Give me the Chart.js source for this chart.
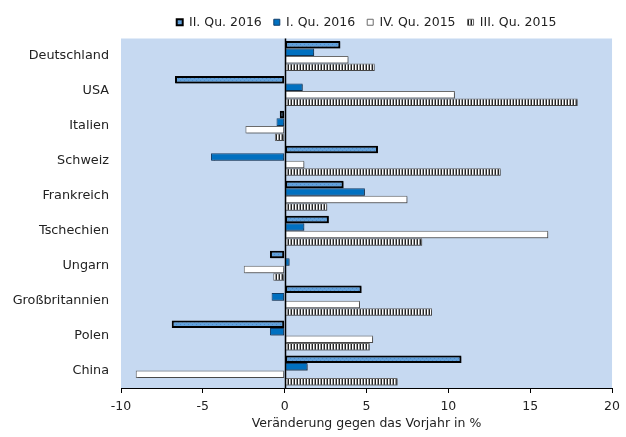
<!DOCTYPE html>
<html>
<head>
<meta charset="utf-8">
<script src="https://cdn.jsdelivr.net/npm/chart.js@4"></script>
<style>
  body { margin: 0; background: #fff; }
  #wrap { width: 626px; height: 437px; }
</style>
</head>
<body>
<div id="wrap"><canvas id="chart"></canvas></div>
<script>
const countries = ['Deutschland', 'USA', 'Italien', 'Schweiz', 'Frankreich', 'Tschechien', 'Ungarn', 'Großbritannien', 'Polen', 'China'];
const seriesNames = ['II. Qu. 2016', 'I. Qu. 2016', 'IV. Qu. 2015', 'III. Qu. 2015'];
const q2_2016 = [3.4, -6.7, -0.3, 5.7, 3.6, 2.7, -0.9, 4.7, -6.9, 10.8];
const q1_2016 = [1.8, 1.1, -0.5, -4.5, 4.9, 1.2, 0.3, -0.8, -0.9, 1.4];
const q4_2015 = [3.9, 10.4, -2.4, 1.2, 7.5, 16.1, -2.5, 4.6, 5.4, -9.1];
const q3_2015 = [5.5, 17.9, -0.6, 13.2, 2.6, 8.4, -0.7, 9.0, 5.2, 6.9];
const xTicks = [-10, -5, 0, 5, 10, 15, 20];

const FONT = '"DejaVu Sans", sans-serif';

// small canvas patterns for the bar fills
function makePattern(w, h, draw) {
    const c = document.createElement('canvas');
    c.width = w; c.height = h;
    draw(c.getContext('2d'));
    return c.getContext('2d').createPattern(c, 'repeat');
}
const ctx = document.getElementById('chart').getContext('2d');
const hatchBlue = makePattern(4, 4, g => {
    g.fillStyle = '#62a0da'; g.fillRect(0, 0, 4, 4);
    g.fillStyle = '#4a8bc9';
    g.fillRect(0, 0, 1, 1); g.fillRect(2, 2, 1, 1);
});
const stripes = makePattern(3, 3, g => {
    g.fillStyle = '#ffffff'; g.fillRect(0, 0, 3, 3);
    g.fillStyle = '#222222'; g.fillRect(0, 0, 1, 3);
    g.fillStyle = '#9a9a9a'; g.fillRect(2, 0, 1, 3);
});

const plotBg = {
    id: 'plotBg',
    beforeDraw(chart) {
        const a = chart.chartArea, c = chart.ctx;
        c.save();
        c.fillStyle = '#c6d9f1';
        c.fillRect(a.left, a.top, a.right - a.left, a.bottom - a.top);
        c.restore();
    },
    beforeDatasetsDraw(chart) {
        // soft drop shadow under the bars
        const c = chart.ctx;
        c.save();
        c.shadowColor = 'rgba(0, 0, 0, 0.35)';
        c.shadowOffsetX = 1;
        c.shadowOffsetY = 1;
        c.shadowBlur = 1;
    },
    afterDatasetsDraw(chart) {
        const a = chart.chartArea, c = chart.ctx;
        c.restore();
        const x0 = Math.round(chart.scales.x.getPixelForValue(0)) + 0.5;
        c.save();
        c.strokeStyle = '#000';
        c.lineWidth = 1.5;
        c.beginPath();
        c.moveTo(x0, a.top);
        c.lineTo(x0, a.bottom);
        c.stroke();
        c.restore();
    }
};

const datasets = [
    { label: seriesNames[0], data: q2_2016, backgroundColor: hatchBlue, borderColor: '#000', borderWidth: 2 },
    { label: seriesNames[1], data: q1_2016, backgroundColor: '#0070c0', borderColor: '#123f6b', borderWidth: 1 },
    { label: seriesNames[2], data: q4_2015, backgroundColor: '#ffffff', borderColor: '#6b6b6b', borderWidth: 1 },
    { label: seriesNames[3], data: q3_2015, backgroundColor: stripes, borderColor: '#6b6b6b', borderWidth: 1 }
];

new Chart(ctx, {
    type: 'bar',
    data: { labels: countries, datasets: datasets },
    options: {
        indexAxis: 'y',
        responsive: true,
        maintainAspectRatio: false,
        animation: false,
        layout: { padding: { top: 4, right: 12, left: 0, bottom: 2 } },
        datasets: { bar: { categoryPercentage: 0.86, barPercentage: 1.0, borderSkipped: false } },
        plugins: {
            legend: {
                position: 'top',
                align: 'center',
                fullSize: false,
                labels: {
                    font: { family: FONT, size: 12.5 },
                    color: '#222',
                    boxWidth: 6,
                    boxHeight: 6,
                    padding: 12
                }
            },
            tooltip: { enabled: false }
        },
        scales: {
            x: {
                min: -10,
                max: 20,
                afterBuildTicks(axis) { axis.ticks = xTicks.map(v => ({ value: v })); },
                afterFit(axis) { axis.height = 47; },
                ticks: { font: { family: FONT, size: 12.5 }, color: '#222', padding: 6 },
                grid: { drawOnChartArea: false, drawTicks: true, tickLength: 5, color: '#000' },
                border: { display: true, color: '#000', width: 1 },
                title: {
                    display: true,
                    text: 'Veränderung gegen das Vorjahr in %',
                    font: { family: FONT, size: 12.5 },
                    color: '#222',
                    padding: { top: 9 }
                }
            },
            y: {
                afterFit(axis) { axis.width = 121; },
                ticks: { font: { family: FONT, size: 12.8 }, color: '#222', padding: 4 },
                grid: { display: false },
                border: { display: false }
            }
        }
    },
    plugins: [plotBg]
});
</script>
</body>
</html>
